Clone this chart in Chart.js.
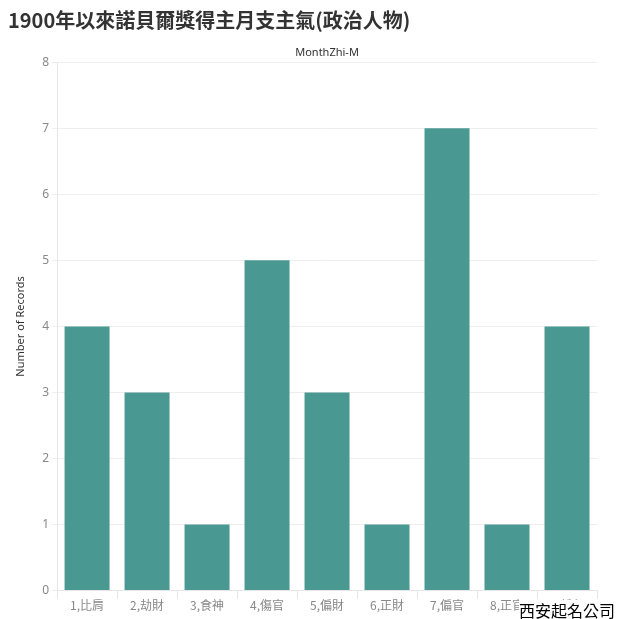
<!DOCTYPE html>
<html>
<head>
<meta charset="utf-8">
<script src="https://cdn.jsdelivr.net/npm/chart.js@4"></script>
<style>
  body { margin: 0; background: #fff; }
  #wrap { position: relative; width: 619px; height: 619px; }
  #mark { position: absolute; left: 519px; top: 600px; font: 16px "Noto Sans CJK TC", sans-serif; color: #000; background: #fff; line-height: 20px; }
</style>
</head>
<body>
<div id="wrap">
  <canvas id="myChart" width="619" height="619"></canvas>
  <div id="mark">西安起名公司</div>
</div>
<script>
const categories = ["1,比肩", "2,劫財", "3,食神", "4,傷官", "5,偏財", "6,正財", "7,偏官", "8,正官", "9,偏印"];
const records = [4, 3, 1, 5, 3, 1, 7, 1, 4];
const yTicks = [0, 1, 2, 3, 4, 5, 6, 7, 8];

const font = '"Noto Sans", "Noto Sans CJK TC", sans-serif';
Chart.defaults.font.family = font;

const ctx = document.getElementById("myChart").getContext("2d");

const myChart = new Chart(ctx, {
  type: "bar",
  data: {
    labels: categories,
    datasets: [
      {
        label: "Number of Records",
        data: records,
        backgroundColor: "rgb(74, 152, 146)",
        barPercentage: 0.75,
        categoryPercentage: 1,
        xAxisID: "x",
      },
    ],
  },
  options: {
    responsive: false,
    animation: false,
    layout: {
      padding: { left: 8, right: 22, top: 0, bottom: 6 },
    },
    plugins: {
      legend: { display: false },
      tooltip: { enabled: false },
      title: {
        display: true,
        text: "1900年以來諾貝爾獎得主月支主氣(政治人物)",
        align: "start",
        color: "#333",
        font: { size: 20, weight: "bold", family: '"Noto Sans CJK TC", sans-serif' },
        padding: { top: 8, bottom: 14 },
      },
    },
    scales: {
      x: {
        type: "category",
        offset: true,
        grid: {
          display: true,
          drawOnChartArea: false,
          offset: true,
          tickLength: 8,
          color: "#e6e6e6",
        },
        border: { color: "#e6e6e6" },
        ticks: {
          color: "#888",
          font: { size: 12, family: '"Noto Sans CJK TC", sans-serif' },
          padding: 0,
          maxRotation: 0,
        },
      },
      xTop: {
        type: "category",
        position: "top",
        labels: categories,
        grid: { display: false },
        border: { display: false },
        ticks: { display: false },
        title: {
          display: true,
          text: "MonthZhi-M",
          color: "#333",
          font: { size: 11 },
          padding: { top: 0, bottom: -5 },
        },
      },
      y: {
        min: 0,
        max: 8,
        afterBuildTicks: (axis) => {
          axis.ticks = yTicks.map((v) => ({ value: v }));
        },
        grid: {
          color: "#eeeeee",
          tickLength: 5,
        },
        border: { color: "#e6e6e6" },
        ticks: {
          color: "#888",
          font: { size: 12 },
          padding: 3,
        },
        title: {
          display: true,
          text: "Number of Records",
          color: "#333",
          font: { size: 11 },
          padding: { top: 6, bottom: 12 },
        },
      },
    },
  },
});
</script>
</body>
</html>
